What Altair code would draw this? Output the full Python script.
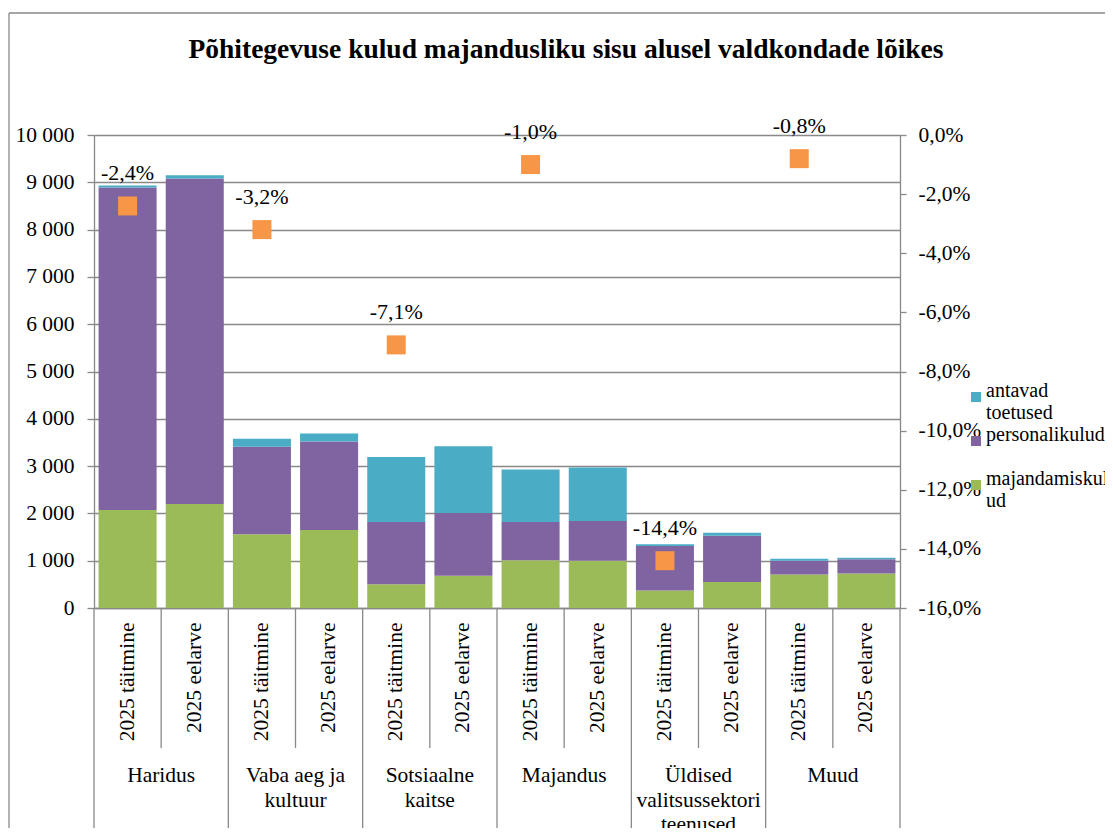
import altair as alt
import pandas as pd

# ---------------- data ----------------
groups = ["Haridus", "Vaba aeg ja kultuur", "Sotsiaalne kaitse", "Majandus",
          "Üldised valitsussektori teenused", "Muud"]
group_labels = ["Haridus", "Vaba aeg ja\nkultuur", "Sotsiaalne\nkaitse", "Majandus",
                "Üldised\nvalitsussektori\nteenused", "Muud"]
periods = ["2025 täitmine", "2025 eelarve"]

series = ["antavad toetused", "personalikulud", "majandamiskulud"]
colors = ["#4BACC6", "#8064A2", "#9BBB59"]

# values per bar (täitmine, eelarve for each group), thousand euros
majandamiskulud = [2070, 2200, 1560, 1650, 500, 680, 1010, 1000, 370, 550, 710, 730]
personalikulud = [6820, 6880, 1850, 1870, 1320, 1330, 810, 840, 940, 980, 290, 300]
antavad_toetused = [40, 70, 170, 170, 1370, 1410, 1110, 1130, 40, 60, 40, 30]

# change of täitmine vs eelarve, %
muutus_pct = [-2.4, -3.2, -7.1, -1.0, -14.4, -0.8]

title_text = "Põhitegevuse kulud majandusliku sisu alusel valdkondade lõikes"

# ---------------- tables ----------------
keys = [f"{g}|{p}" for g in groups for p in periods]
rows = []
for i, k in enumerate(keys):
    for s, vals, o in [("majandamiskulud", majandamiskulud, 0),
                       ("personalikulud", personalikulud, 1),
                       ("antavad toetused", antavad_toetused, 2)]:
        rows.append({"key": k, "series": s, "value": vals[i], "order": o})
bars_df = pd.DataFrame(rows)

pct_df = pd.DataFrame({
    "key": [f"{g}|{periods[0]}" for g in groups],
    "pct": muutus_pct,
    "label": [f"{v:.1f}".replace(".", ",") + "%" for v in muutus_pct],
})

first_keys = pd.DataFrame({"key": [f"{g}|{periods[0]}" for g in groups]})
second_keys = pd.DataFrame({"key": [f"{g}|{periods[1]}" for g in groups],
                            "glabel": group_labels})
last_key = pd.DataFrame({"key": [keys[-1]]})
one = pd.DataFrame({"t": [title_text]})

# ---------------- styling ----------------
FONT = "Times New Roman, Liberation Serif, Tinos, DejaVu Serif, serif"
GREY = "#898989"
LW = 1.3
W, H = 806, 473

x_axis = alt.Axis(title=None, labelExpr="split(datum.value, '|')[1]",
                  labelAngle=270, labelAlign="right", labelBaseline="middle",
                  ticks=False, labelPadding=14, grid=False, domain=True,
                  labelFont="Times New Roman", labelFontSize=21.5)
x_scale = alt.Scale(paddingInner=0, paddingOuter=0)


def X(**kw):
    return alt.X("key:N", sort=keys, scale=x_scale, axis=x_axis, **kw)


left_axis = alt.Axis(title=None, values=list(range(0, 10001, 1000)),
                     labelExpr="replace(format(datum.value, ','), ',', ' ')",
                     grid=True, tickSize=7, labelPadding=13,
                     labelFont="Liberation Serif", labelFontSize=21.5)
right_axis = alt.Axis(title=None, orient="right",
                      values=[-16, -14, -12, -10, -8, -6, -4, -2, 0],
                      labelExpr="(datum.value < 0 ? '-' : '') + replace(format(abs(datum.value), '.1f'), '.', ',') + '%'",
                      grid=False, tickSize=6, labelPadding=12,
                      labelFont=FONT, labelFontSize=21.5)

bars = alt.Chart(bars_df).mark_bar(width=alt.RelativeBandSize(0.864)).encode(
    x=X(),
    y=alt.Y("value:Q", stack="zero", scale=alt.Scale(domain=[0, 10000], nice=False),
            axis=left_axis),
    order=alt.Order("order:Q"),
    color=alt.Color("series:N", scale=alt.Scale(domain=series, range=colors),
                    legend=alt.Legend(
                        title=None, orient="none", legendX=872, legendY=252,
                        symbolType="square", symbolSize=100, symbolStrokeWidth=0,
                        labelFont=FONT, labelFontSize=20, labelColor="black",
                        labelBaseline="alphabetic", labelOffset=0, padding=0,
                        rowPadding=2, gridAlign="all", labelLimit=300,
                        labelExpr="datum.label == 'antavad toetused' ? ['antavad', 'toetused'] : (datum.label == 'majandamiskulud' ? ['majandamiskul', 'ud'] : datum.label)",
                    )),
)

inner_rules = alt.Chart(second_keys).mark_rule(color=GREY, strokeWidth=LW).encode(
    x=X(bandPosition=0), y=alt.value(H), y2=alt.value(H + 140))
group_rules = alt.Chart(first_keys).mark_rule(color=GREY, strokeWidth=LW).encode(
    x=X(bandPosition=0), y=alt.value(H), y2=alt.value(H + 220))
end_rule = alt.Chart(last_key).mark_rule(color=GREY, strokeWidth=LW).encode(
    x=X(bandPosition=1), y=alt.value(H), y2=alt.value(H + 220))

group_text = alt.Chart(second_keys).mark_text(
    font=FONT, fontSize=21.5, color="black", baseline="alphabetic", lineBreak="\n",
    lineHeight=24.5, align="center").encode(
    x=X(bandPosition=0), y=alt.value(H + 174), text="glabel:N")

frame_left = alt.Chart(one).mark_rule(color=GREY, strokeWidth=LW).encode(
    x=alt.value(-85), y=alt.value(-122), y2=alt.value(H + 220))
frame_top = alt.Chart(one).mark_rule(color=GREY, strokeWidth=LW).encode(
    x=alt.value(-85), x2=alt.value(1011), y=alt.value(-122))
title_mark = alt.Chart(one).mark_text(
    font=FONT, fontSize=27.5, fontWeight="bold", color="black",
    align="center", baseline="alphabetic").encode(
    x=alt.value(472), y=alt.value(-77), text="t:N")

pct_y = alt.Y("pct:Q", scale=alt.Scale(domain=[-16, 0], nice=False), axis=right_axis)
points = alt.Chart(pct_df).mark_point(shape="square", filled=True, size=361,
                                      color="#F79646", opacity=1).encode(x=X(), y=pct_y)
labels = alt.Chart(pct_df).mark_text(font="Times New Roman", fontSize=22, color="black",
                                     baseline="alphabetic", dy=-26).encode(
    x=X(), y=pct_y, text="label:N")

chart = alt.layer(
    frame_left, frame_top, title_mark, bars, inner_rules, group_rules, end_rule,
    group_text, alt.layer(points, labels),
).resolve_scale(y="independent").properties(
    width=W, height=H,
    autosize=alt.AutoSizeParams(type="none"),
    padding={"left": 86, "top": 127, "right": 205, "bottom": 220},
    background="white",
).configure_view(stroke=None).configure_axis(
    domainColor=GREY, tickColor=GREY, gridColor=GREY,
    domainWidth=LW, tickWidth=LW, gridWidth=LW,
    labelColor="black",
)

chart.save("out.html", embed_options={"renderer": "svg", "actions": False})
